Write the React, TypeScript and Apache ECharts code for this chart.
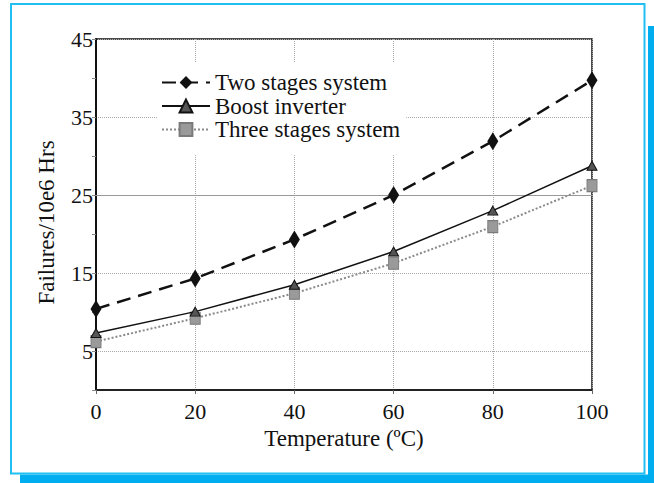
import React, { useEffect, useRef } from "react";
import * as echarts from "echarts";

const temperatures = [0, 20, 40, 60, 80, 100];
const twoStages = [10.4, 14.3, 19.3, 25.0, 31.9, 39.7];
const boostInverter = [7.3, 10.05, 13.5, 17.75, 23.0, 28.75];
const threeStages = [6.2, 9.2, 12.4, 16.25, 20.95, 26.2];
const yTickLabels = [5, 15, 25, 35, 45];
const solidGridValue = 25;
const seriesNames = ["Two stages system", "Boost inverter", "Three stages system"];
const xTitle = "Temperature (ºC)";
const yTitle = "Failures/10e6 Hrs";

const FONT = "'Liberation Serif', 'Times New Roman', serif";

const pairs = (ys: number[]) => temperatures.map((t, i) => [t, ys[i]]);

export default function App() {
  const ref = useRef<HTMLDivElement>(null);
  useEffect(() => {
    if (!ref.current) return;
    const chart = echarts.init(ref.current, undefined, { renderer: "svg" });
    chart.setOption({
      animation: false,
      backgroundColor: "#ffffff",
      graphic: [
        { type: "rect", z: -10, shape: { x: 20, y: 26, width: 634, height: 457 }, style: { fill: "#00AEEF" } },
        { type: "rect", z: -9, shape: { x: 10, y: 3, width: 638, height: 471.5 }, style: { fill: "#ffffff" } },
        { type: "rect", z: -8, shape: { x: 11, y: 4, width: 633.5, height: 469.5 }, style: { fill: "none", stroke: "#22C0F2", lineWidth: 2 } },
      ],
      grid: {
        left: 96,
        right: 62,
        top: 39,
        bottom: 93,
        show: true,
        borderColor: "#111",
        borderWidth: 1.5,
        backgroundColor: "transparent",
      },
      legend: {
        orient: "vertical",
        left: 158,
        top: 63,
        padding: [8, 6, 14, 3],
        backgroundColor: "#ffffff",
        itemWidth: 48,
        itemHeight: 16,
        itemGap: 0.5,
        data: seriesNames,
        textStyle: { fontFamily: FONT, fontSize: 23, lineHeight: 22, color: "#111" },
        z: 10,
      },
      xAxis: {
        type: "value",
        min: 0,
        max: 100,
        interval: 20,
        name: xTitle,
        nameLocation: "middle",
        nameGap: 35,
        nameTextStyle: { fontFamily: FONT, fontSize: 23, color: "#111" },
        axisLine: { show: true, lineStyle: { color: "#222", width: 2 } },
        axisTick: { show: true, length: 4, lineStyle: { color: "#666" } },
        axisLabel: { fontFamily: FONT, fontSize: 22, color: "#111", margin: 10 },
        splitLine: { show: true, lineStyle: { color: "#aaa", type: "dotted", width: 1 } },
      },
      yAxis: {
        type: "value",
        min: 0,
        max: 45,
        interval: 5,
        name: yTitle,
        nameLocation: "middle",
        nameGap: 38,
        nameTextStyle: { fontFamily: FONT, fontSize: 23, color: "#111", padding: [0, 16, 0, 0] },
        axisLine: { show: true, lineStyle: { color: "#111", width: 2 } },
        axisTick: { show: true, length: 4, lineStyle: { color: "#888" } },
        axisLabel: {
          fontFamily: FONT,
          fontSize: 22,
          color: "#111",
          margin: 3,
          formatter: (v: number) => (yTickLabels.includes(v) ? String(v) : ""),
        },
        splitLine: {
          show: true,
          lineStyle: { color: ["transparent", "#aaa"], type: "dotted", width: 1 },
        },
      },
      series: [
        {
          name: seriesNames[0],
          type: "line",
          data: pairs(twoStages),
          clip: false,
          symbol: "diamond",
          symbolSize: [11, 18],
          itemStyle: { color: "#111" },
          lineStyle: { color: "#111", width: 2.5, type: [14, 8] },
          z: 5,
          markLine: {
            silent: true,
            symbol: "none",
            label: { show: false },
            lineStyle: { color: "#999", type: "solid", width: 1 },
            data: [{ yAxis: solidGridValue }],
            z: 1,
          },
        },
        {
          name: seriesNames[1],
          type: "line",
          data: pairs(boostInverter),
          clip: false,
          symbol: "triangle",
          symbolSize: [10, 9],
          itemStyle: { color: "#555", borderColor: "#111", borderWidth: 1 },
          lineStyle: { color: "#111", width: 1.5, type: "solid" },
          z: 4,
        },
        {
          name: seriesNames[2],
          type: "line",
          data: pairs(threeStages),
          clip: false,
          symbol: "rect",
          symbolSize: [10, 12],
          itemStyle: { color: "#9a9a9a", borderColor: "#7a7a7a", borderWidth: 1 },
          lineStyle: { color: "#8a8a8a", width: 2, type: [2, 2] },
          z: 3,
        },
      ],
    });
    return () => chart.dispose();
  }, []);
  return (
    <div
      ref={ref}
      style={{ position: "fixed", left: 0, top: 0, width: 654, height: 483 }}
    />
  );
}
